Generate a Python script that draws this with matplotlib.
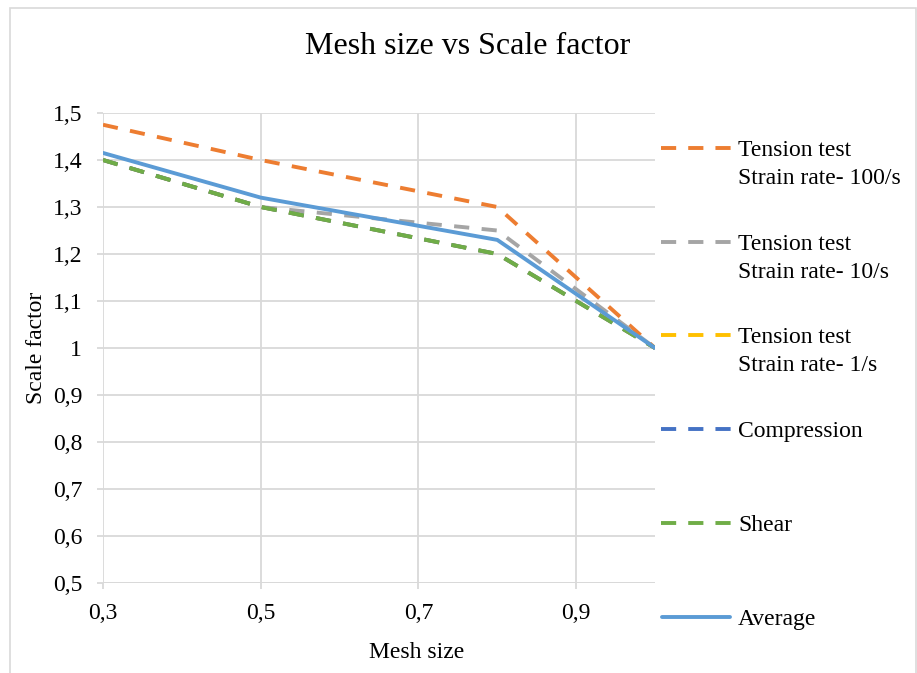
import matplotlib
matplotlib.use("Agg")
import matplotlib.pyplot as plt
from matplotlib.lines import Line2D
from matplotlib.patches import Rectangle

mesh_size = [0.3, 0.5, 0.8, 1.0]
tension_100 = [1.475, 1.40, 1.30, 1.00]
tension_10 = [1.40, 1.30, 1.25, 1.00]
tension_1 = [1.40, 1.30, 1.20, 1.00]
compression = [1.40, 1.30, 1.20, 1.00]
shear = [1.40, 1.30, 1.20, 1.00]
average = [1.415, 1.32, 1.23, 1.00]

labels = ["Tension test\nStrain rate- 100/s", "Tension test\nStrain rate- 10/s",
          "Tension test\nStrain rate- 1/s", "Compression", "Shear", "Average"]
colors = ["#ED7D31", "#A5A5A5", "#FFC000", "#4472C4", "#70AD47", "#5B9BD5"]
series = [tension_100, tension_10, tension_1, compression, shear, average]

xticks = [0.3, 0.5, 0.7, 0.9]
xticklabels = ["0,3", "0,5", "0,7", "0,9"]
yticks = [0.5, 0.6, 0.7, 0.8, 0.9, 1.0, 1.1, 1.2, 1.3, 1.4, 1.5]
yticklabels = ["0,5", "0,6", "0,7", "0,8", "0,9", "1", "1,1", "1,2", "1,3", "1,4", "1,5"]

plt.rcParams['font.family'] = ['Liberation Serif', 'DejaVu Serif']

W, H = 917, 673
fig = plt.figure(figsize=(W / 100, H / 100), dpi=100)
ax = fig.add_axes([103 / W, 1 - 583 / H, (655 - 103) / W, (583 - 113) / H])

LW = 2.8
dash = (3.9, 3.2)
for i, (vals, c, lab) in enumerate(zip(series, colors, labels)):
    if lab == "Average":
        ax.plot(mesh_size, vals, color=c, lw=LW, solid_capstyle='round', zorder=3 + i)
    else:
        ax.plot(mesh_size, vals, color=c, lw=LW, dashes=dash, zorder=3 + i)

ax.set_xlim(0.3, 1.0)
ax.set_ylim(0.5, 1.5)
ax.set_xticks(xticks)
ax.set_xticklabels(xticklabels)
ax.set_yticks(yticks)
ax.set_yticklabels(yticklabels)
grid_c = "#D9D9D9"
ax.grid(True, color=grid_c, lw=1.3)
for s in ax.spines.values():
    s.set_visible(False)
ax.axhline(0.5, color=grid_c, lw=1.3, zorder=2)
ax.tick_params(axis='both', colors=grid_c, labelcolor='black', labelsize=17, width=1.3, length=4.5)
ax.tick_params(axis='x', pad=10)
ax.tick_params(axis='y', pad=10.5)
ax.set_axisbelow(True)

fig.text(417 / W, 1 - 652 / H, "Mesh size", ha='center', va='center', fontsize=17)
fig.text(37 / W, 1 - 348 / H, "Scale factor", ha='center', va='center', fontsize=17, rotation=90)
fig.text(468 / W, 1 - 47 / H, "Mesh size vs Scale factor", ha='center', va='center', fontsize=23)

# legend
ys = [148, 242, 335, 429, 523, 617]
for y, c, lab in zip(ys, colors, labels):
    yf = 1 - y / H
    if lab == "Average":
        fig.add_artist(Line2D([662 / W, 730 / W], [yf, yf], color=c, lw=LW,
                              solid_capstyle='round', transform=fig.transFigure))
    else:
        fig.add_artist(Line2D([661 / W, 731 / W], [yf, yf], color=c, lw=LW,
                              dashes=(3.9, 3.1), transform=fig.transFigure))
    first = lab.split("\n")[0]
    fig.text(738 / W, yf, first, ha='left', va='center_baseline', fontsize=17)
    if "\n" in lab:
        fig.text(738 / W, yf - 28 / H, lab.split("\n")[1], ha='left',
                 va='center_baseline', fontsize=17)

fig.add_artist(Rectangle((9.5 / W, -0.01), (916 - 9.5) / W, 1 - 7.5 / H + 0.01,
                         transform=fig.transFigure, fill=False, edgecolor=grid_c, lw=1.2))

fig.savefig("out.png", dpi=100)
